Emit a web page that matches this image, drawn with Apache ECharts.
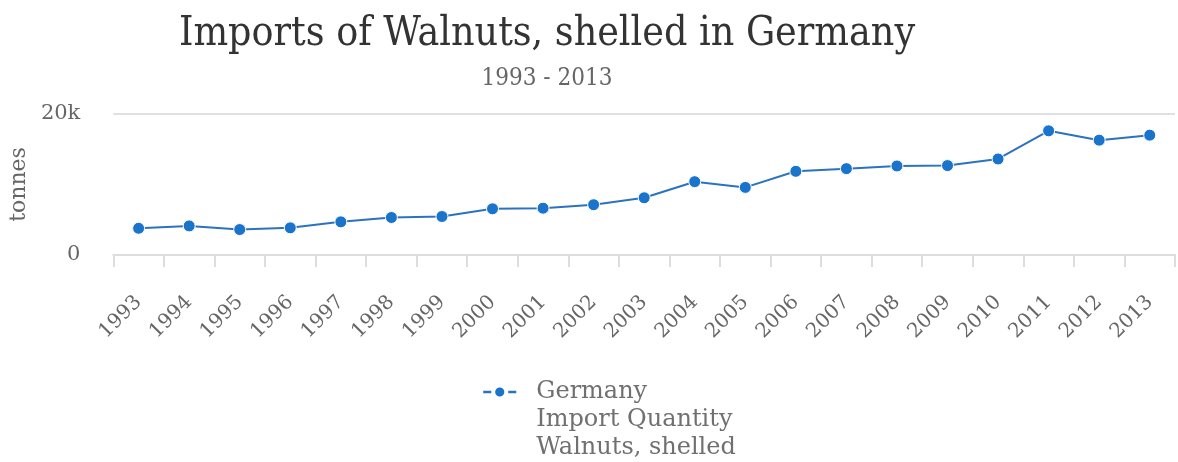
<!DOCTYPE html>
<html>
<head>
<meta charset="utf-8">
<script src="https://cdn.jsdelivr.net/npm/echarts@6/dist/echarts.min.js"></script>
<style>
  html, body { margin: 0; padding: 0; background: #fff; }
  #chart { width: 1178px; height: 462px; }
</style>
</head>
<body>
<div id="chart"></div>
<script>
// Annual import quantity of shelled walnuts into Germany (tonnes)
const years = ['1993','1994','1995','1996','1997','1998','1999','2000','2001','2002','2003',
               '2004','2005','2006','2007','2008','2009','2010','2011','2012','2013'];
const importTonnes = [3790, 4130, 3610, 3850, 4700, 5320, 5460, 6550, 6640, 7130, 8120,
                      10400, 9590, 11870, 12250, 12630, 12680, 13620, 17610, 16290, 17000];
const seriesName = 'Germany\nImport Quantity\nWalnuts, shelled';

const serif = '"DejaVu Serif", "Liberation Serif", serif';
const serifCond = '"DejaVu Serif Condensed", "DejaVu Serif", "Liberation Serif", serif';

const chart = echarts.init(document.getElementById('chart'), null, { renderer: 'canvas' });
chart.setOption({
  animation: false,
  backgroundColor: '#ffffff',
  title: {
    text: 'Imports of Walnuts, shelled in Germany',
    subtext: '1993 - 2013',
    left: 542,
    textAlign: 'center',
    top: 9,
    itemGap: 12,
    textStyle: { fontFamily: serifCond, fontSize: 40.7, fontWeight: 'normal', color: '#333333' },
    subtextStyle: { fontFamily: serifCond, fontSize: 24, color: '#666666' }
  },
  legend: {
    left: 477,
    top: 317,
    itemWidth: 33,
    itemHeight: 14,
    padding: 5,
    // two leading blank lines keep the icon level with the first line of the name
    formatter: function (name) { return '\n\n' + name; },
    textStyle: {
      fontFamily: serif,
      fontSize: 24,
      lineHeight: 28,
      color: '#707070',
      padding: [0, 0, 0, 15]
    },
    lineStyle: { type: [8, 17], width: 2.5 },
    data: [seriesName]
  },
  grid: { left: 110, right: 3, top: 114, bottom: 207, containLabel: false },
  xAxis: {
    type: 'category',
    data: years,
    boundaryGap: true,
    axisLine: { lineStyle: { color: '#dddddd', width: 2 } },
    axisTick: { show: true, length: 12, lineStyle: { color: '#dddddd', width: 2 } },
    axisLabel: {
      rotate: 45,
      interval: 0,
      margin: 44,
      fontFamily: serif,
      fontSize: 20,
      color: '#666666'
    }
  },
  yAxis: {
    type: 'value',
    min: 0,
    max: 20000,
    interval: 20000,
    name: 'tonnes',
    nameLocation: 'middle',
    nameGap: 83,
    nameRotate: 90,
    nameTextStyle: { fontFamily: serif, fontSize: 22, color: '#666666' },
    axisLine: { show: false },
    axisTick: { show: false },
    splitLine: { lineStyle: { color: '#e0e0e0', width: 2 } },
    axisLabel: {
      margin: 33,
      fontFamily: serif,
      fontSize: 21,
      color: '#666666',
      formatter: function (v) { return v === 0 ? '0' : (v / 1000) + 'k'; }
    }
  },
  series: [{
    name: seriesName,
    type: 'line',
    data: importTonnes,
    symbol: 'circle',
    symbolSize: 12,
    color: '#1b74cc',
    lineStyle: { color: '#2b72c0', width: 2 },
    itemStyle: { color: '#1b74cc', borderColor: '#ffffff', borderWidth: 1 }
  }]
});
</script>
</body>
</html>
